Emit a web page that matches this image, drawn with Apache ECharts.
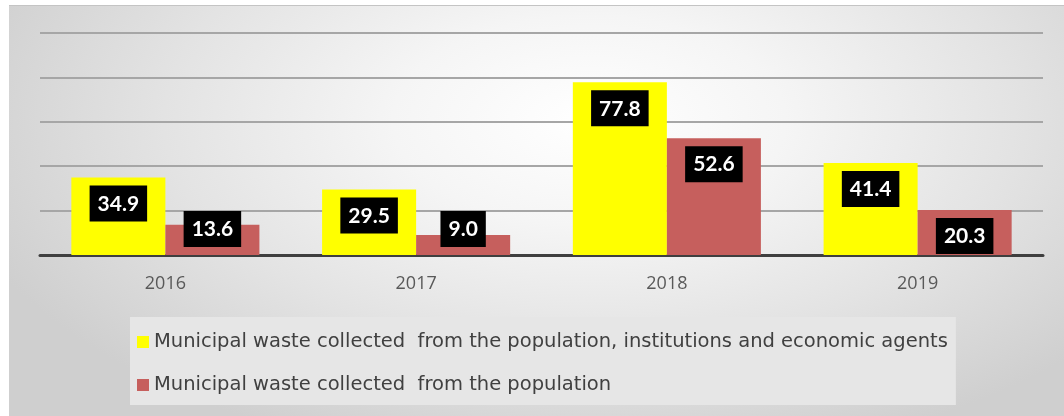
<!DOCTYPE html>
<html>
<head>
<meta charset="utf-8">
<script src="https://cdn.jsdelivr.net/npm/echarts@6/dist/echarts.min.js"></script>
<style>
html,body{margin:0;padding:0;background:#fff;}
#wrap{position:relative;width:1064px;height:416px;}
#bg{position:absolute;left:9px;top:5px;width:1055px;height:411px;
  border-top:1px solid #c4c4c4;box-sizing:border-box;
  background:radial-gradient(ellipse 62% 85% at 55% 28%, #ffffff 0%, #f5f5f5 30%, #e3e3e3 65%, #cfcfcf 100%);
  background-color:#cbcbcb;}
#c{position:absolute;left:0;top:0;width:1064px;height:416px;}
</style>
</head>
<body>
<div id="wrap"><div id="bg"></div><div id="c"></div></div>
<script>
const categories = ['2016', '2017', '2018', '2019'];
const seriesNames = [
  'Municipal waste collected  from the population, institutions and economic agents',
  'Municipal waste collected  from the population'
];
const totalValues = [34.9, 29.5, 77.8, 41.4];
const populationValues = [13.6, 9.0, 52.6, 20.3];
const yTicks = [0, 20, 40, 60, 80, 100];

const chart = echarts.init(document.getElementById('c'), null, {renderer: 'canvas'});

const labelBase = {
  show: true,
  color: '#ffffff',
  fontFamily: 'Lato, "Open Sans", sans-serif',
  fontWeight: 'bold',
  fontSize: 21,
  backgroundColor: '#000000',
  padding: [8, 8, 7, 8],
  formatter: p => p.value.toFixed(1)
};

function buildData(values) {
  return values.map(v => {
    const tall = v >= 17;
    return {
      value: v,
      label: tall ? {position: 'insideTop', distance: 8}
                  : {position: 'insideBottom', distance: 8}
    };
  });
}

chart.setOption({
  animation: false,
  backgroundColor: 'transparent',
  grid: {left: 40, right: 21, top: 33, bottom: 161, containLabel: false},
  xAxis: {
    type: 'category',
    data: categories,
    axisLine: {show: true, lineStyle: {color: '#3f3f3f', width: 3}},
    axisTick: {show: false},
    axisLabel: {
      color: '#595959', fontSize: 18, margin: 20,
      fontFamily: '"Open Sans", Lato, sans-serif'
    }
  },
  yAxis: {
    type: 'value',
    min: yTicks[0],
    max: yTicks[yTicks.length - 1],
    interval: yTicks[1] - yTicks[0],
    axisLabel: {show: false},
    axisLine: {show: false},
    axisTick: {show: false},
    splitLine: {lineStyle: {color: '#a6a6a6', width: 2}}
  },
  legend: {
    orient: 'vertical',
    left: 130,
    top: 317,
    backgroundColor: '#e6e6e6',
    padding: [15, 8, 10, 7],
    itemGap: 23,
    itemWidth: 12,
    itemHeight: 12,
    icon: 'rect',
    textStyle: {
      color: '#404040', fontSize: 19.5,
      fontFamily: '"DejaVu Sans", sans-serif'
    },
    data: seriesNames
  },
  series: [
    {
      name: seriesNames[0],
      type: 'bar',
      data: buildData(totalValues),
      itemStyle: {color: '#ffff00'},
      barGap: '0%',
      barCategoryGap: '25%',
      label: labelBase
    },
    {
      name: seriesNames[1],
      type: 'bar',
      data: buildData(populationValues),
      itemStyle: {color: '#c65f5d'},
      barGap: '0%',
      barCategoryGap: '25%',
      label: labelBase
    }
  ]
});
</script>
</body>
</html>
